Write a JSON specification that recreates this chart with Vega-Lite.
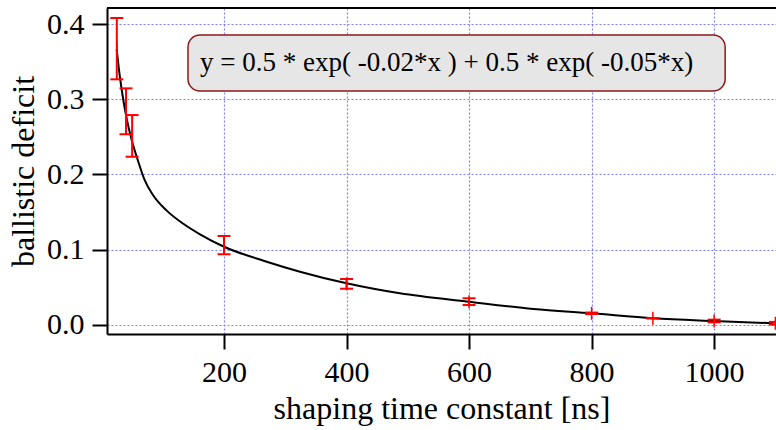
{
  "$schema": "https://vega.github.io/schema/vega-lite/v6.json",
  "width": 669,
  "height": 326,
  "autosize": "none",
  "padding": {"left": 107, "top": 8, "right": 0, "bottom": 96},
  "background": "white",
  "config": {
    "font": "Liberation Serif",
    "view": {"stroke": null},
    "axis": {
      "labelFont": "Liberation Serif",
      "titleFont": "Liberation Serif",
      "labelFontSize": 30,
      "titleFontSize": 32,
      "titleFontWeight": "normal",
      "labelColor": "black",
      "titleColor": "black",
      "domainColor": "black",
      "domainWidth": 2,
      "tickColor": "black",
      "tickWidth": 2,
      "tickSize": 15,
      "labelPadding": 8,
      "gridColor": "#8080ff",
      "gridDash": [2, 2],
      "gridWidth": 1.2,
      "gridOpacity": 1
    }
  },
  "datasets": {
    "points": [
      {"x": 25, "y": 0.367, "lo": 0.3265, "hi": 0.408},
      {"x": 40, "y": 0.284, "lo": 0.2535, "hi": 0.3145},
      {"x": 50, "y": 0.2513, "lo": 0.2236, "hi": 0.279},
      {"x": 200, "y": 0.106, "lo": 0.094, "hi": 0.1183},
      {"x": 400, "y": 0.0547, "lo": 0.0482, "hi": 0.0611},
      {"x": 600, "y": 0.031, "lo": 0.0265, "hi": 0.0355},
      {"x": 800, "y": 0.0155, "lo": 0.0145, "hi": 0.0165},
      {"x": 900, "y": 0.0089, "lo": 0.0086, "hi": 0.0092},
      {"x": 1000, "y": 0.0053, "lo": 0.0035, "hi": 0.0071},
      {"x": 1100, "y": 0.0023, "lo": 0.0005, "hi": 0.0041}
    ],
    "curve": [
      {"x": 24.8, "y": 0.3664},
      {"x": 30, "y": 0.33},
      {"x": 35.6, "y": 0.299},
      {"x": 42, "y": 0.271},
      {"x": 49.3, "y": 0.2458},
      {"x": 60.1, "y": 0.217},
      {"x": 70, "y": 0.1935},
      {"x": 84.6, "y": 0.172},
      {"x": 106.5, "y": 0.152},
      {"x": 133.6, "y": 0.1345},
      {"x": 160.8, "y": 0.1205},
      {"x": 200, "y": 0.104},
      {"x": 269.7, "y": 0.0841},
      {"x": 324, "y": 0.0708},
      {"x": 400, "y": 0.0554},
      {"x": 487, "y": 0.0421},
      {"x": 599, "y": 0.031},
      {"x": 705, "y": 0.0213},
      {"x": 800, "y": 0.0155},
      {"x": 901, "y": 0.0089},
      {"x": 999, "y": 0.0053},
      {"x": 1097, "y": 0.0023}
    ],
    "box": [
      {"x1": 141.2, "x2": 1018, "y1": 0.311, "y2": 0.3854, "tx": 160.8, "ty": 0.3482, "label": "y = 0.5 * exp( -0.02*x ) + 0.5 * exp( -0.05*x)"}
    ]
  },
  "layer": [
    {
      "data": {"name": "box"},
      "mark": {"type": "rect", "fill": "#e6e6e6", "stroke": "#8b1a1a", "strokeWidth": 1.5, "cornerRadius": 12},
      "encoding": {
        "x": {"field": "x1", "type": "quantitative",
          "scale": {"domain": [9, 1101], "nice": false, "zero": false},
          "axis": {"title": "shaping time constant [ns]", "values": [200, 400, 600, 800, 1000], "format": "d", "grid": true, "titlePadding": 6}},
        "x2": {"field": "x2"},
        "y": {"field": "y1", "type": "quantitative",
          "scale": {"domain": [-0.012, 0.4213], "nice": false, "zero": false},
          "axis": {"title": "ballistic deficit", "values": [0, 0.1, 0.2, 0.3, 0.4], "format": ".1f", "grid": true, "titlePadding": 6}},
        "y2": {"field": "y2"}
      }
    },
    {
      "data": {"name": "box"},
      "mark": {"type": "text", "align": "left", "baseline": "middle", "fontSize": 27, "font": "Liberation Serif", "color": "black"},
      "encoding": {
        "x": {"field": "tx", "type": "quantitative"},
        "y": {"field": "ty", "type": "quantitative"},
        "text": {"field": "label"}
      }
    },
    {
      "data": {"values": [{"top": 0.4213}]},
      "mark": {"type": "rule", "color": "black", "strokeWidth": 2},
      "encoding": {"y": {"field": "top", "type": "quantitative"}}
    },
    {
      "data": {"name": "curve"},
      "mark": {"type": "line", "color": "black", "strokeWidth": 2, "interpolate": "monotone"},
      "encoding": {
        "x": {"field": "x", "type": "quantitative"},
        "y": {"field": "y", "type": "quantitative"}
      }
    },
    {
      "data": {"name": "points"},
      "mark": {"type": "rule", "color": "#ff0000", "strokeWidth": 2},
      "encoding": {
        "x": {"field": "x", "type": "quantitative"},
        "y": {"field": "lo", "type": "quantitative"},
        "y2": {"field": "hi"}
      }
    },
    {
      "data": {"name": "points"},
      "mark": {"type": "point", "shape": "M-1,0L1,0", "size": 169, "filled": false, "stroke": "#ff0000", "strokeWidth": 2, "opacity": 1},
      "encoding": {
        "x": {"field": "x", "type": "quantitative"},
        "y": {"field": "lo", "type": "quantitative"}
      }
    },
    {
      "data": {"name": "points"},
      "mark": {"type": "point", "shape": "M-1,0L1,0", "size": 169, "filled": false, "stroke": "#ff0000", "strokeWidth": 2, "opacity": 1},
      "encoding": {
        "x": {"field": "x", "type": "quantitative"},
        "y": {"field": "hi", "type": "quantitative"}
      }
    },
    {
      "data": {"name": "points"},
      "mark": {"type": "point", "shape": "M0,-1L0,1", "size": 169, "filled": false, "stroke": "#ff0000", "strokeWidth": 1.5, "opacity": 1},
      "encoding": {
        "x": {"field": "x", "type": "quantitative"},
        "y": {"field": "y", "type": "quantitative"}
      }
    }
  ]
}
